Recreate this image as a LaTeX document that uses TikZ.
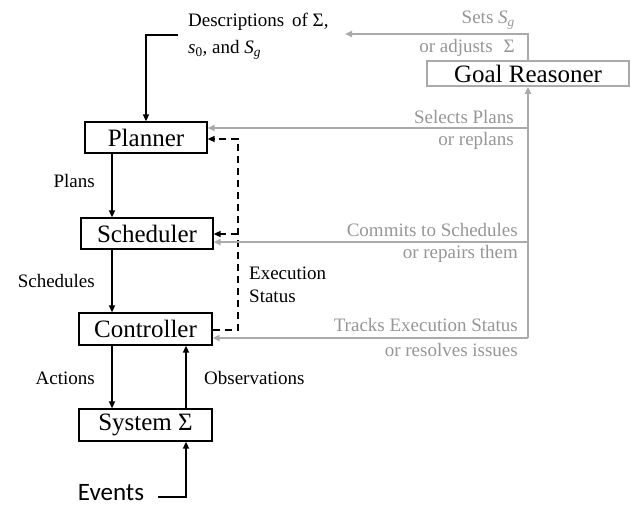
\documentclass[tikz,border=0pt]{standalone}
\usepackage{fontspec}
\setmainfont{Liberation Serif}
\newfontfamily\evfont{Carlito}
\usetikzlibrary{arrows.meta}
\definecolor{glin}{RGB}{170,170,170}
\definecolor{gtxt}{RGB}{150,150,150}
\begin{document}
\begin{tikzpicture}[x=1pt,y=-1pt,
  box/.style={draw=black, line width=1.2pt, minimum width=#1, minimum height=31pt,
    inner sep=0pt, font=\fontsize{25}{25}\selectfont},
  gbox/.style={box=#1, draw=glin, line width=1.6pt, minimum height=25pt},
  lbl/.style={inner sep=0pt, font=\fontsize{19}{19}\selectfont},
  glbl/.style={lbl, text=gtxt, anchor=east},
  flow/.style={draw=black, line width=1.4pt, -{Triangle[length=7pt,width=6pt]}},
  stat/.style={flow, dashed, dash pattern=on 7pt off 5pt},
  ctrl/.style={draw=glin, line width=1.8pt, -{Triangle[length=7pt,width=6pt]}}]
\useasboundingbox (0,0) rectangle (631,506);

% execution layers
\node[box=122pt] (pl) at (146,137.5) {Planner};
\node[box=132pt] (sc) at (147,233.5) {Scheduler};
\node[box=133pt, minimum height=32pt] (ct) at (145.5,329) {Controller};
\node[box=133pt, minimum height=32pt] (sy) at (145.5,425) {System Σ};
\node[gbox=202pt] (gr) at (528,73.5) {Goal Reasoner};

% problem description
\node[lbl, anchor=west, align=left, font=\fontsize{19}{27}\selectfont] (desc) at (188,36)
  {Descriptions\, of Σ,\\ \textit{s}\textsubscript{0}, and \textit{S}\textsubscript{\textit{g}}};
\coordinate (din) at (178,35);
\draw[flow] (din) -| (pl.north);

% main downward flow
\draw[flow] (pl.south -| 112,0) -- (sc.north -| 112,0);
\draw[flow] (sc.south -| 112,0) -- (ct.north -| 112,0);
\draw[flow] (ct.south -| 112,0) -- (sy.north -| 112,0);
\draw[flow] (sy.north -| 186,0) -- (ct.south -| 186,0);

\node[lbl, anchor=east] (lplans) at (95,181) {Plans};
\node[lbl, anchor=east] (lsched) at (95,281) {Schedules};
\node[lbl, anchor=east] (lact) at (95,378) {Actions};
\node[lbl, anchor=west] (lobs) at (204,378) {Observations};

% external events
\node[inner sep=0pt, font=\evfont\fontsize{25}{25}\selectfont] (ev) at (111,493) {Events};
\coordinate (evout) at (158,497);
\draw[flow] (evout) -| (sy.south -| 186,0);

% execution status feedback
\coordinate (fb) at (238,330);
\draw[stat] (ct.east |- fb) -- (fb) -- (fb |- 0,139) -- (pl.east |- 0,139);
\draw[stat] (fb |- 0,234) -- (sc.east |- 0,234);
\node[lbl, anchor=west, align=left, font=\fontsize{19}{23}\selectfont] (lstat) at (249,284.5)
  {Execution\\Status};

% goal reasoner interventions
\coordinate (gtop) at (528,34);
\coordinate (gleft) at (345,34);
\coordinate (gbot) at (528,338);
\draw[ctrl] (gr.north) -- (gtop) -- (gleft);
\draw[ctrl] (gbot) -- (gr.south);
\draw[ctrl] (gbot -| gr.south) -- (ct.east |- gbot);
\draw[ctrl] (528,242) -- (sc.east |- 0,242);
\draw[ctrl] (528,128) -- (pl.east |- 0,128);

\node[glbl] (g1) at (515,20) {Sets \textit{S}\textsubscript{\textit{g}}};
\node[glbl] (g2) at (515,48) {or adjusts\,\, Σ};
\node[glbl] (g3) at (514,117) {Selects Plans};
\node[glbl] (g4) at (514,141) {or replans};
\node[glbl] (g5) at (518,230) {Commits to Schedules};
\node[glbl] (g6) at (518,254) {or repairs them};
\node[glbl] (g7) at (518,325) {Tracks Execution Status};
\node[glbl] (g8) at (518,350) {or resolves issues};
\end{tikzpicture}
\end{document}
